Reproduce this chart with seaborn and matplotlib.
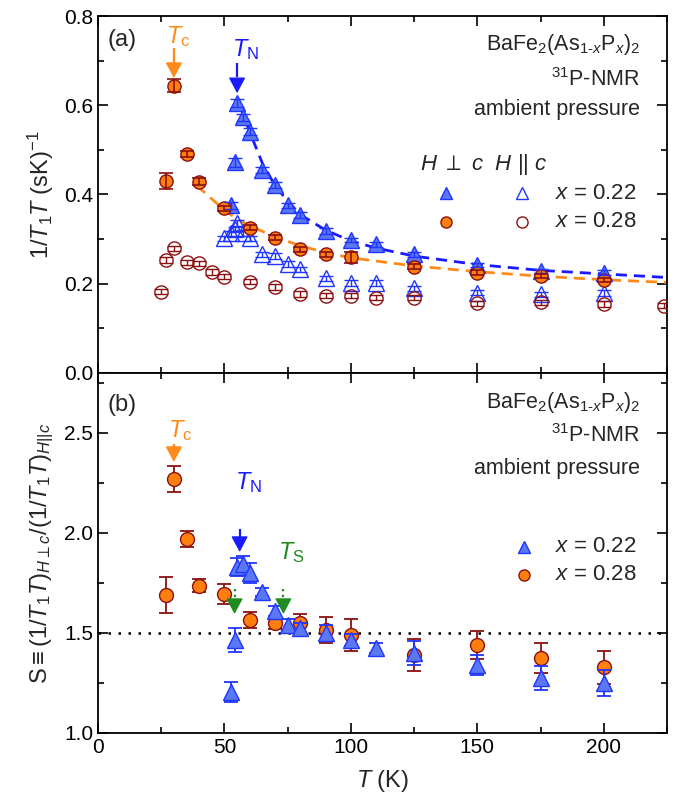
import numpy as np
import pandas as pd
import matplotlib
matplotlib.use("Agg")
import matplotlib.pyplot as plt
from matplotlib.ticker import MultipleLocator
import seaborn as sns

# ---------------- data ----------------
# (a) 1/T1T, x = 0.22
T22_perp = [52.6, 54, 55, 57.5, 60, 65, 70, 75, 80, 90, 100, 110, 125, 150, 175, 200]
R22_perp = [0.376, 0.472, 0.605, 0.573, 0.541, 0.455, 0.421, 0.376, 0.354, 0.318, 0.298, 0.288,
            0.266, 0.242, 0.229, 0.225]
E22_perp = [0.008, 0.01, 0.01, 0.008, 0.008, 0.007, 0.007, 0.006, 0.006, 0.006, 0.005, 0.005,
            0.005, 0.005, 0.005, 0.005]
T22_par = [50, 52.6, 54, 55, 57.5, 60, 65, 70, 75, 80, 90, 100, 110, 125, 150, 175, 200]
R22_par = [0.302, 0.313, 0.322, 0.336, 0.314, 0.302, 0.266, 0.262, 0.244, 0.232, 0.212, 0.202,
           0.202, 0.190, 0.180, 0.176, 0.179]
E22_par = [0.006] * 17
# (a) 1/T1T, x = 0.28
T28_perp = [27, 30, 35, 40, 50, 60, 70, 80, 90, 100, 125, 150, 175, 200]
R28_perp = [0.431, 0.644, 0.491, 0.429, 0.369, 0.326, 0.303, 0.277, 0.266, 0.259, 0.238, 0.225,
            0.217, 0.208]
E28_perp = [0.018, 0.015, 0.006, 0.008, 0.006, 0.006, 0.006, 0.006, 0.006, 0.012, 0.006, 0.005,
            0.005, 0.005]
T28_par = [25, 27, 30, 35, 40, 45, 50, 60, 70, 80, 90, 100, 110, 125, 150, 175, 200, 224]
R28_par = [0.182, 0.253, 0.279, 0.248, 0.246, 0.226, 0.216, 0.205, 0.193, 0.177, 0.173, 0.173,
           0.169, 0.169, 0.156, 0.158, 0.155, 0.151]
E28_par = [0.006] * 18
# dashed guide curves
FIT22_T = [56, 60, 65, 70, 75, 80, 90, 100, 110, 125, 150, 175, 200, 225]
FIT22_R = [0.60, 0.54, 0.47, 0.42, 0.385, 0.355, 0.32, 0.296, 0.28, 0.262, 0.243, 0.23, 0.222, 0.214]
FIT28_T = [39, 45, 50, 55, 60, 70, 80, 90, 100, 125, 150, 175, 200, 225]
FIT28_R = [0.42, 0.39, 0.365, 0.345, 0.33, 0.305, 0.285, 0.27, 0.258, 0.24, 0.227, 0.217, 0.209, 0.203]

# (b) anisotropy S
S22_T = [52.6, 54, 55, 57.5, 60, 65, 70, 75, 80, 90, 100, 110, 125, 150, 175, 200]
S22 = [1.207, 1.465, 1.83, 1.845, 1.80, 1.707, 1.612, 1.54, 1.523, 1.498, 1.465, 1.423,
       1.40, 1.34, 1.273, 1.248]
S22_err = [0.05, 0.06, 0.045, 0.04, 0.05, 0.02, 0.025, 0.03, 0.025, 0.04, 0.03, 0.025,
           0.06, 0.05, 0.06, 0.065]
S28_T = [27, 30, 35, 40, 50, 60, 70, 80, 90, 100, 125, 150, 175, 200]
S28 = [1.69, 2.27, 1.97, 1.737, 1.694, 1.565, 1.552, 1.548, 1.515, 1.49, 1.39, 1.44, 1.373, 1.328]
S28_err = [0.09, 0.065, 0.04, 0.033, 0.05, 0.04, 0.03, 0.045, 0.067, 0.078, 0.08, 0.07, 0.075, 0.083]

TC = 30
TN = 55
TS_LIST = [54, 73.3]

# ---------------- style ----------------
sns.set_theme(style="ticks")
plt.rcParams["font.family"] = ["Liberation Sans", "DejaVu Sans"]
plt.rcParams["mathtext.fontset"] = "custom"
plt.rcParams["mathtext.rm"] = "Liberation Sans"
plt.rcParams["mathtext.it"] = "Liberation Sans:italic"
plt.rcParams["mathtext.bf"] = "Liberation Sans:bold"
plt.rcParams["axes.linewidth"] = 1.3

BLUE_FACE = "#5b78f2"
BLUE_EDGE = "#2035ff"
BLUE_LINE = "#1a1aff"
OR_FACE = "#ff7f0e"
OR_EDGE = "#8b1010"
OR_LINE = "#ff8a1a"
GREEN = "#1e8c1e"

fig = plt.figure(figsize=(6.82, 8.10), dpi=100)
L, R = 98 / 682, 667 / 682
ax1 = fig.add_axes([L, 1 - 373 / 810, R - L, (373 - 16) / 810])
ax2 = fig.add_axes([L, 1 - 733 / 810, R - L, (733 - 373) / 810])

TICK_FS = 15


def style_axes(ax):
    ax.tick_params(which="both", direction="in", top=True, right=True, width=1.2,
                   labelsize=TICK_FS, colors="black")
    ax.tick_params(which="major", length=7)
    ax.tick_params(which="minor", length=4)
    ax.xaxis.set_major_locator(MultipleLocator(50))
    ax.xaxis.set_minor_locator(MultipleLocator(25))
    for s in ax.spines.values():
        s.set_color("black")
        s.set_linewidth(1.3)


def markers(ax, x, y, marker, ms, face, edge, mew=1.0, z=3):
    sns.lineplot(x=x, y=y, ax=ax, marker=marker, linestyle="", markersize=ms,
                 markerfacecolor=face, markeredgecolor=edge, markeredgewidth=mew,
                 estimator=None, sort=False, legend=False, zorder=z, color=edge)


def down_arrow(ax, x, y_top, y_base, y_tip, color, ls):
    # stem from y_top to y_base, filled head from y_base to y_tip
    ax.plot([x, x], [y_top, y_base], color=color, lw=1.6, linestyle=ls, zorder=6,
            solid_capstyle="butt")
    ax.annotate("", xy=(x, y_tip), xytext=(x, y_base), zorder=6,
                arrowprops=dict(arrowstyle="-|>,head_length=0.75,head_width=0.4",
                                color=color, lw=1.0, shrinkA=0, shrinkB=0,
                                mutation_scale=13))


# ---------------- panel (a) ----------------
sns.lineplot(x=FIT22_T, y=FIT22_R, ax=ax1, color=BLUE_LINE, lw=2.0, dashes=(4, 2.5),
             estimator=None, sort=False, legend=False, zorder=2)
sns.lineplot(x=FIT28_T, y=FIT28_R, ax=ax1, color=OR_LINE, lw=2.0, dashes=(4, 2.5),
             estimator=None, sort=False, legend=False, zorder=2)

ax1.errorbar(T22_par, R22_par, yerr=E22_par, fmt="none", ecolor=BLUE_EDGE, capsize=5,
             elinewidth=1.0, capthick=1.0, zorder=3)
markers(ax1, T22_par, R22_par, "^", 11, "none", BLUE_EDGE)
ax1.errorbar(T28_par, R28_par, yerr=E28_par, fmt="none", ecolor=OR_EDGE, capsize=5,
             elinewidth=1.0, capthick=1.0, zorder=3)
markers(ax1, T28_par, R28_par, "o", 9.5, "none", OR_EDGE)

markers(ax1, T22_perp, R22_perp, "^", 11, BLUE_FACE, BLUE_EDGE, z=4)
ax1.errorbar(T22_perp, R22_perp, yerr=E22_perp, fmt="none", ecolor=BLUE_EDGE, capsize=5,
             elinewidth=1.0, capthick=1.0, zorder=5)
markers(ax1, T28_perp, R28_perp, "o", 9.5, OR_FACE, OR_EDGE, z=4)
ax1.errorbar(T28_perp, R28_perp, yerr=E28_perp, fmt="none", ecolor=OR_EDGE, capsize=5,
             elinewidth=1.2, capthick=1.2, zorder=5)

ax1.set_xlim(0, 225)
ax1.set_ylim(0, 0.8)
style_axes(ax1)
ax1.yaxis.set_major_locator(MultipleLocator(0.2))
ax1.yaxis.set_minor_locator(MultipleLocator(0.1))
ax1.tick_params(labelbottom=False)
ax1.set_xlabel("")
ax1.set_ylabel(r"1/$T_1T$ (sK)$^{-1}$", fontsize=17, labelpad=6)

ax1.text(0.016, 0.933, "(a)", transform=ax1.transAxes, fontsize=17, va="center", ha="left")
info = [r"BaFe$_2$(As$_{1\text{-}x}$P$_x$)$_2$", r"$^{31}$P-NMR", "ambient pressure"]
for txt, yy in zip(info, [0.919, 0.821, 0.737]):
    ax1.text(0.953, yy, txt, transform=ax1.transAxes, fontsize=15.5, ha="right", va="center")

# Tc / TN arrows (a)
ax1.text(27, 0.755, r"$T_{\rm c}$", color=OR_LINE, fontsize=17, ha="left", va="center")
down_arrow(ax1, TC, 0.728, 0.691, 0.661, OR_LINE, "-")
ax1.text(53, 0.725, r"$T_{\rm N}$", color=BLUE_LINE, fontsize=17, ha="left", va="center")
down_arrow(ax1, TN, 0.695, 0.657, 0.627, BLUE_LINE, "-.")

# legend (a)
ax1.text(0.566, 0.583, r"$H$ $\perp$ $c$  $H$ || $c$", transform=ax1.transAxes,
         fontsize=16, ha="left", va="center")
ax1.plot([0.612], [0.504], transform=ax1.transAxes, marker="^", ms=9, mfc=BLUE_FACE,
         mec=BLUE_EDGE, linestyle="", clip_on=False)
ax1.plot([0.745], [0.504], transform=ax1.transAxes, marker="^", ms=9, mfc="none",
         mec=BLUE_EDGE, linestyle="", clip_on=False)
ax1.plot([0.612], [0.423], transform=ax1.transAxes, marker="o", ms=8, mfc=OR_FACE,
         mec=OR_EDGE, linestyle="", clip_on=False)
ax1.plot([0.745], [0.423], transform=ax1.transAxes, marker="o", ms=8, mfc="none",
         mec=OR_EDGE, linestyle="", clip_on=False)
ax1.text(0.803, 0.504, r"$x$ = 0.22", transform=ax1.transAxes, fontsize=16, va="center")
ax1.text(0.803, 0.423, r"$x$ = 0.28", transform=ax1.transAxes, fontsize=16, va="center")

# ---------------- panel (b) ----------------
ax2.axhline(1.5, color="black", lw=1.8, linestyle=(0, (1, 3)), zorder=1)
ax2.errorbar(S28_T, S28, yerr=S28_err, fmt="none", ecolor=OR_EDGE, capsize=5,
             elinewidth=1.3, capthick=1.3, zorder=2)
markers(ax2, S28_T, S28, "o", 10, OR_FACE, OR_EDGE, z=3)
ax2.errorbar(S22_T, S22, yerr=S22_err, fmt="none", ecolor=BLUE_EDGE, capsize=5,
             elinewidth=1.3, capthick=1.3, zorder=4)
markers(ax2, S22_T, S22, "^", 11, BLUE_FACE, BLUE_EDGE, z=5)

ax2.set_xlim(0, 225)
ax2.set_ylim(1.0, 2.8)
style_axes(ax2)
ax2.yaxis.set_major_locator(MultipleLocator(0.5))
ax2.yaxis.set_minor_locator(MultipleLocator(0.25))
ax2.set_xlabel(r"$T$ (K)", fontsize=17, labelpad=8)
ax2.set_ylabel(r"S$\equiv$(1/$T_1T$)$_{H\perp c}$/(1/$T_1T$)$_{H||c}$", fontsize=17, labelpad=6)

ax2.text(0.016, 0.911, "(b)", transform=ax2.transAxes, fontsize=17, va="center", ha="left")
for txt, yy in zip(info, [0.919, 0.825, 0.736]):
    ax2.text(0.953, yy, txt, transform=ax2.transAxes, fontsize=15.5, ha="right", va="center")

ax2.text(27.5, 2.51, r"$T_{\rm c}$", color=OR_LINE, fontsize=17, ha="left", va="center")
down_arrow(ax2, TC, 2.445, 2.423, 2.355, OR_LINE, "-")
ax2.text(54, 2.25, r"$T_{\rm N}$", color=BLUE_LINE, fontsize=17, ha="left", va="center")
down_arrow(ax2, 56, 2.02, 1.973, 1.905, BLUE_LINE, "-.")
ax2.text(71, 1.90, r"$T_{\rm S}$", color=GREEN, fontsize=17, ha="left", va="center")
for ts in TS_LIST:
    down_arrow(ax2, ts, 1.72, 1.663, 1.595, GREEN, ":")

ax2.plot([0.749], [0.517], transform=ax2.transAxes, marker="^", ms=9, mfc=BLUE_FACE,
         mec=BLUE_EDGE, linestyle="", clip_on=False)
ax2.plot([0.749], [0.439], transform=ax2.transAxes, marker="o", ms=8, mfc=OR_FACE,
         mec=OR_EDGE, linestyle="", clip_on=False)
ax2.text(0.803, 0.517, r"$x$ = 0.22", transform=ax2.transAxes, fontsize=16, va="center")
ax2.text(0.803, 0.439, r"$x$ = 0.28", transform=ax2.transAxes, fontsize=16, va="center")

fig.align_ylabels([ax1, ax2])
fig.savefig("out.png", dpi=100)
